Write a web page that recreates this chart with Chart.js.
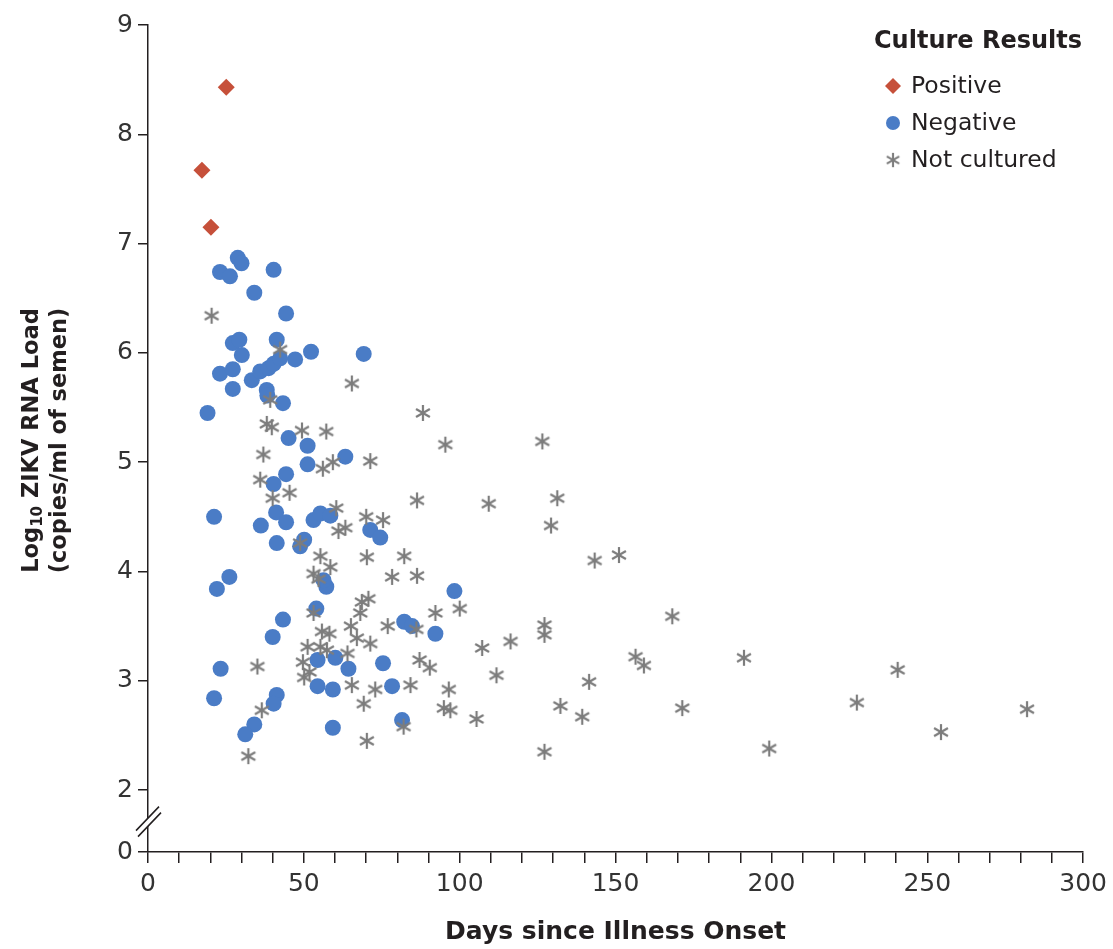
<!DOCTYPE html>
<html>
<head>
<meta charset="utf-8">
<script src="https://cdn.jsdelivr.net/npm/chart.js@4.4.1/dist/chart.umd.min.js"></script>
<style>
  html, body { margin: 0; background: #fff; }
  #wrap { width: 1113px; height: 949px; }
</style>
</head>
<body>
<div id="wrap"><canvas id="zikvChart" width="1113" height="949"></canvas></div>
<script>
/* Culture Results: Log10 ZIKV RNA load vs days since illness onset */
const positiveDays = [25.1, 17.3, 20.2];
const positiveLoad = [8.43, 7.67, 7.15];

const negativeDays = [28.8, 30.0, 23.1, 26.3, 40.3, 34.1, 44.3, 27.2, 29.3, 30.1, 41.3, 47.2, 52.3, 69.2,
  23.1, 27.2, 33.3, 36.0, 38.7, 40.3, 42.4, 27.2, 38.1, 38.3, 43.3, 19.1, 45.1, 51.2, 63.3, 51.2,
  44.3, 40.3, 21.2, 41.1, 44.3, 36.2, 53.1, 55.3, 58.5, 71.3, 74.5, 41.3, 50.1, 48.8, 26.1, 22.1,
  57.2, 56.3, 98.3, 54.0, 43.3, 40.0, 82.2, 84.7, 92.2, 54.4, 60.1, 64.3, 75.4, 23.3, 21.2, 54.4,
  59.3, 78.3, 41.3, 40.3, 34.1, 31.2, 59.3, 81.5];
const negativeLoad = [6.87, 6.82, 6.74, 6.70, 6.76, 6.55, 6.36, 6.09, 6.12, 5.98, 6.12, 5.94, 6.01, 5.99,
  5.81, 5.85, 5.75, 5.83, 5.86, 5.90, 5.95, 5.67, 5.66, 5.61, 5.54, 5.45, 5.22, 5.15, 5.05, 4.98,
  4.89, 4.80, 4.50, 4.54, 4.45, 4.42, 4.47, 4.53, 4.51, 4.38, 4.31, 4.26, 4.29, 4.23, 3.95, 3.84,
  3.86, 3.92, 3.82, 3.66, 3.56, 3.40, 3.54, 3.50, 3.43, 3.19, 3.21, 3.11, 3.16, 3.11, 2.84, 2.95,
  2.92, 2.95, 2.87, 2.79, 2.60, 2.51, 2.57, 2.64];

const notCulturedDays = [20.4, 42.4, 65.4, 88.2, 39.2, 38.1, 39.7, 49.4, 57.2, 95.4, 126.5, 37.0, 59.3,
  56.1, 71.3, 36.0, 45.4, 40.0, 86.3, 109.3, 131.3, 60.4, 48.8, 70.0, 75.4, 63.3, 61.1, 129.3, 55.3,
  70.2, 82.2, 143.3, 151.1, 58.5, 53.1, 54.7, 78.3, 86.3, 68.6, 68.1, 70.7, 92.2, 100.0, 53.1, 168.2,
  55.8, 58.2, 65.1, 76.9, 86.1, 127.2, 127.2, 51.2, 55.3, 57.4, 67.0, 71.3, 64.0, 107.2, 116.3, 49.7,
  35.1, 51.8, 50.1, 87.1, 90.4, 111.8, 156.4, 159.1, 191.2, 141.5, 65.4, 72.9, 84.2, 96.5, 69.2, 36.5,
  94.9, 97.0, 105.4, 132.3, 139.3, 171.4, 82.0, 70.2, 32.2, 127.2, 199.3, 240.5, 227.4, 254.4, 282.0];
const notCulturedLoad = [6.34, 6.03, 5.72, 5.45, 5.57, 5.35, 5.32, 5.29, 5.28, 5.16, 5.19, 5.07, 5.00,
  4.94, 5.01, 4.84, 4.72, 4.67, 4.65, 4.62, 4.67, 4.58, 4.26, 4.50, 4.47, 4.40, 4.37, 4.42, 4.14,
  4.13, 4.14, 4.10, 4.15, 4.04, 3.98, 3.93, 3.95, 3.96, 3.72, 3.62, 3.75, 3.62, 3.66, 3.62, 3.59,
  3.45, 3.43, 3.50, 3.50, 3.47, 3.51, 3.42, 3.31, 3.31, 3.28, 3.39, 3.34, 3.25, 3.30, 3.36, 3.17,
  3.13, 3.08, 3.03, 3.19, 3.12, 3.05, 3.22, 3.14, 3.21, 2.99, 2.96, 2.92, 2.96, 2.92, 2.79, 2.73,
  2.75, 2.73, 2.65, 2.77, 2.67, 2.75, 2.58, 2.45, 2.31, 2.35, 2.38, 3.10, 2.80, 2.53, 2.74];

const yTickValues = [2, 3, 4, 5, 6, 7, 8, 9];
const xLabelValues = [0, 50, 100, 150, 200, 250, 300];
const seriesNames = ["Positive", "Negative", "Not cultured"];

const Y_ZERO = 1.433; // where "0" sits below the axis break
const RED = "#c6503a";
const BLUE = "#4a7cc6";
const GREY = "#7d7d7d";
const INK = "#231f20";
const FONT = "'DejaVu Sans', 'Open Sans', sans-serif";

function pairs(xs, ys) {
  return xs.map((x, i) => ({ x: x, y: ys[i] }));
}

// six-armed asterisk used as point style
function makeAsterisk() {
  const c = document.createElement("canvas");
  c.width = 20; c.height = 20;
  const g = c.getContext("2d");
  g.strokeStyle = GREY;
  g.lineWidth = 2.2;
  [90, 30, 150].forEach(function (a) {
    const r = a * Math.PI / 180;
    g.beginPath();
    g.moveTo(10 - 8 * Math.cos(r), 10 - 8 * Math.sin(r));
    g.lineTo(10 + 8 * Math.cos(r), 10 + 8 * Math.sin(r));
    g.stroke();
  });
  return c;
}
const asterisk = makeAsterisk();

const decorPlugin = {
  id: "decor",
  afterDraw(chart) {
    const ctx = chart.ctx;
    const y = chart.scales.y;
    const area = chart.chartArea;
    ctx.save();

    // axis break marks
    const by = y.getPixelForValue(1.72);
    const bx = area.left;
    ctx.fillStyle = "#fff";
    ctx.beginPath();
    ctx.moveTo(bx - 12, by + 10);
    ctx.lineTo(bx + 11, by - 14);
    ctx.lineTo(bx + 13, by - 8);
    ctx.lineTo(bx - 10, by + 16);
    ctx.closePath();
    ctx.fill();
    ctx.strokeStyle = INK;
    ctx.lineWidth = 1.5;
    ctx.beginPath();
    ctx.moveTo(bx - 12, by + 10); ctx.lineTo(bx + 11, by - 14);
    ctx.moveTo(bx - 10, by + 16); ctx.lineTo(bx + 13, by - 8);
    ctx.stroke();

    // y-axis title, two lines with subscript
    const cy = (area.top + area.bottom) / 2 + 2;
    ctx.translate(0, cy);
    ctx.rotate(-Math.PI / 2);
    ctx.fillStyle = INK;
    ctx.textBaseline = "middle";
    const big = "bold 22.5px " + FONT;
    const small = "bold 15px " + FONT;
    ctx.font = big;
    const wLog = ctx.measureText("Log").width;
    const wRest = ctx.measureText(" ZIKV RNA Load").width;
    ctx.font = small;
    const wSub = ctx.measureText("10").width;
    let x0 = -(wLog + wSub + wRest) / 2;
    ctx.textAlign = "left";
    ctx.font = big;
    ctx.fillText("Log", x0, 32);
    ctx.font = small;
    ctx.fillText("10", x0 + wLog, 38);
    ctx.font = big;
    ctx.fillText(" ZIKV RNA Load", x0 + wLog + wSub, 32);
    ctx.textAlign = "center";
    ctx.fillText("(copies/ml of semen)", 0, 60);
    ctx.setTransform(1, 0, 0, 1, 0, 0);

    // legend
    ctx.textAlign = "left";
    ctx.textBaseline = "middle";
    ctx.font = "bold 24px " + FONT;
    ctx.fillStyle = INK;
    ctx.fillText("Culture Results", 874, 42);
    ctx.font = "23.5px " + FONT;
    const rows = [86, 123, 160];
    seriesNames.forEach(function (name, i) {
      const my = rows[i];
      if (i === 0) {
        ctx.fillStyle = RED;
        ctx.beginPath();
        ctx.moveTo(893, my - 8); ctx.lineTo(901, my); ctx.lineTo(893, my + 8); ctx.lineTo(885, my);
        ctx.closePath(); ctx.fill();
      } else if (i === 1) {
        ctx.fillStyle = BLUE;
        ctx.beginPath(); ctx.arc(893, my, 7, 0, Math.PI * 2); ctx.fill();
      } else {
        ctx.drawImage(asterisk, 884, my - 9, 18, 18);
      }
      ctx.fillStyle = INK;
      ctx.fillText(name, 911, my + 1);
    });
    ctx.restore();
  }
};

const config = {
  type: "scatter",
  data: {
    datasets: [
      {
        label: seriesNames[0],
        data: pairs(positiveDays, positiveLoad),
        pointStyle: "rectRot",
        pointRadius: 8.5,
        backgroundColor: RED,
        borderWidth: 0,
        order: 0
      },
      {
        label: seriesNames[2],
        data: pairs(notCulturedDays, notCulturedLoad),
        pointStyle: asterisk,
        order: 1
      },
      {
        label: seriesNames[1],
        data: pairs(negativeDays, negativeLoad),
        pointStyle: "circle",
        pointRadius: 8,
        backgroundColor: BLUE,
        borderWidth: 0,
        order: 2
      }
    ]
  },
  options: {
    responsive: false,
    animation: false,
    devicePixelRatio: 1,
    layout: { padding: { left: 0, right: 28, top: 25, bottom: 0 } },
    plugins: { legend: { display: false }, tooltip: { enabled: false } },
    scales: {
      x: {
        type: "linear",
        min: 0,
        max: 300,
        afterBuildTicks: function (scale) {
          const t = [];
          for (let v = 0; v <= 300; v += 10) t.push({ value: v });
          scale.ticks = t;
        },
        afterFit: function (scale) { scale.height = 97; },
        ticks: {
          autoSkip: false,
          maxRotation: 0,
          padding: 6,
          color: "#333",
          font: { family: FONT, size: 25 },
          callback: function (v) { return xLabelValues.indexOf(v) >= 0 ? String(v) : ""; }
        },
        grid: { drawOnChartArea: false, drawTicks: true, tickLength: 11, color: INK, lineWidth: 1.5 },
        border: { display: true, color: INK, width: 1.5 },
        title: {
          display: true,
          text: "Days since Illness Onset",
          color: INK,
          font: { family: FONT, size: 25, weight: "bold" },
          padding: { top: 0, bottom: 2 }
        }
      },
      y: {
        type: "linear",
        min: Y_ZERO,
        max: 9,
        afterBuildTicks: function (scale) {
          scale.ticks = [Y_ZERO].concat(yTickValues).map(function (v) { return { value: v }; });
        },
        afterFit: function (scale) { scale.width = 148; },
        ticks: {
          padding: 5,
          color: "#333",
          font: { family: FONT, size: 25 },
          callback: function (v) { return Math.abs(v - Y_ZERO) < 0.01 ? "0" : String(v); }
        },
        grid: { drawOnChartArea: false, drawTicks: true, tickLength: 10, color: INK, lineWidth: 1.5 },
        border: { display: true, color: INK, width: 1.5 }
      }
    }
  },
  plugins: [decorPlugin]
};

var zikvChart = new Chart(document.getElementById("zikvChart"), config);
</script>
</body>
</html>
